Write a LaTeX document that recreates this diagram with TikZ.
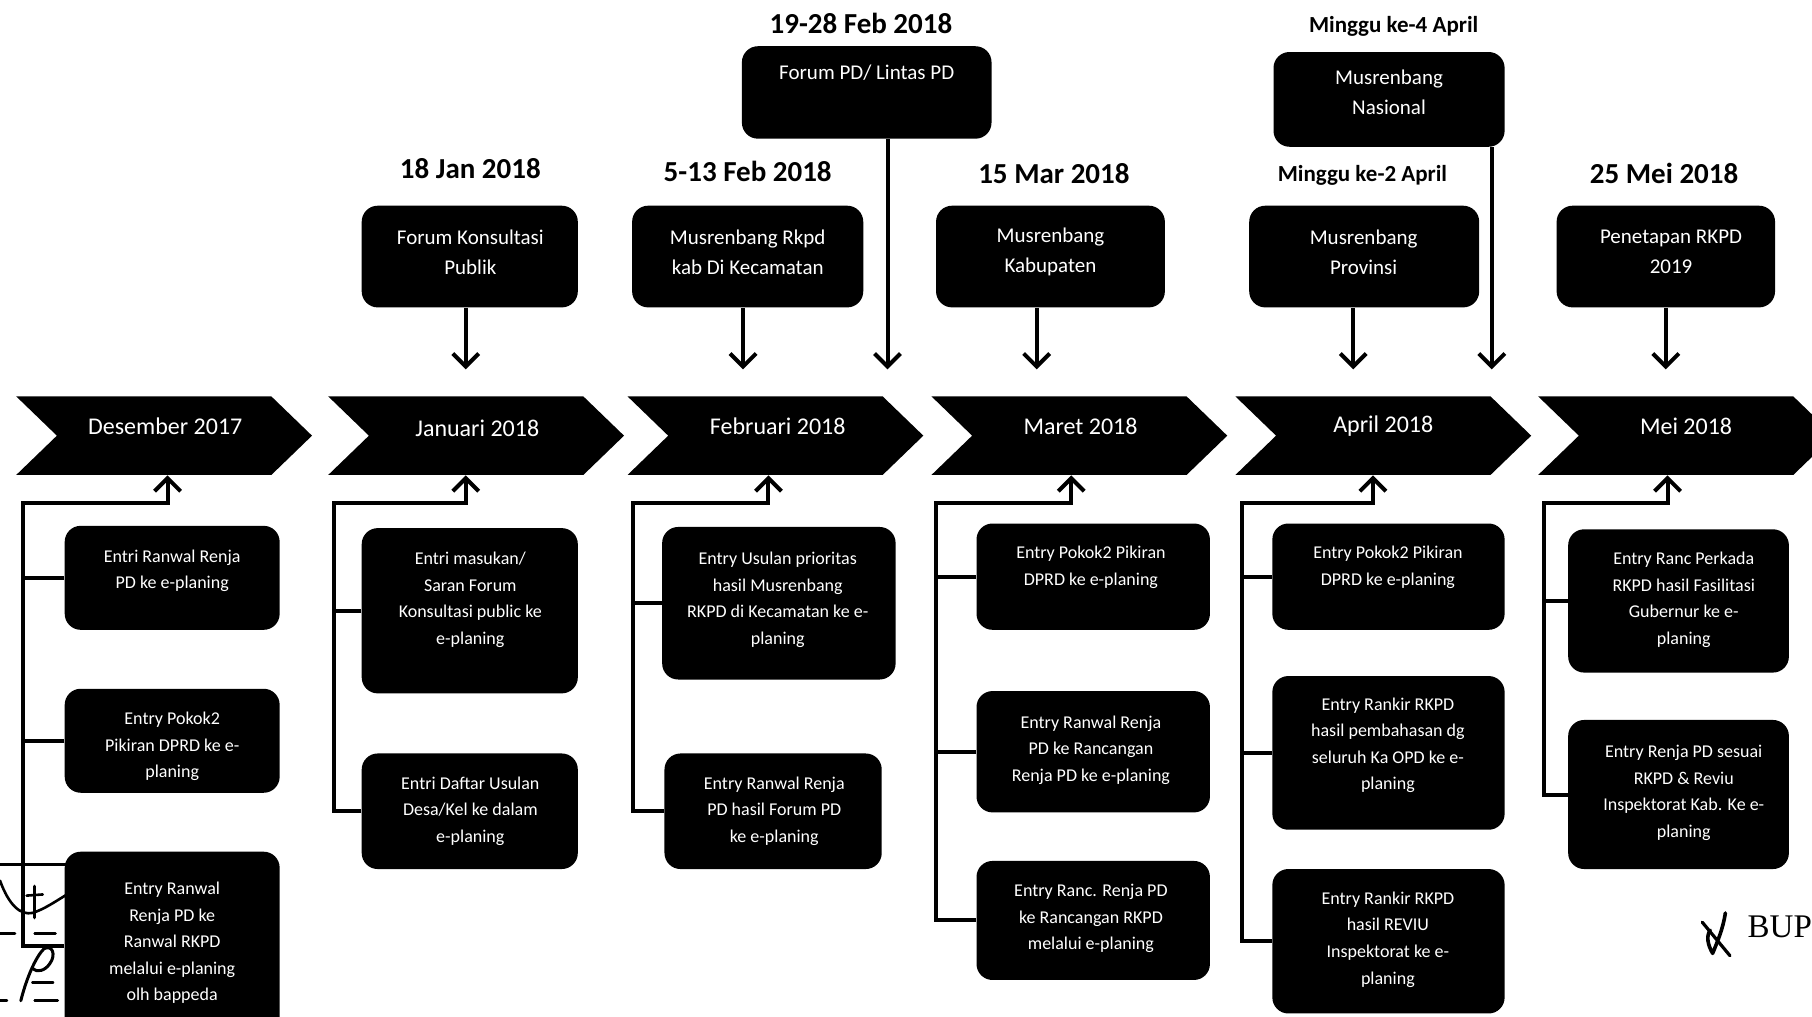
\documentclass[tikz,border=0pt]{standalone}
\usepackage{fontspec}
\setmainfont{Carlito}
\newfontfamily\bupfont{Liberation Serif}
\usetikzlibrary{arrows.meta,shapes.symbols,fit}
\begin{document}
\begin{tikzpicture}[x=0.5778pt,y=-0.5778pt,
  chev/.style={shape=signal, signal from=west, signal to=east, signal pointer angle=88,
    fill=black, minimum width=147.9pt, minimum height=39.3pt, inner sep=0pt},
  mon/.style={text=white, font=\fontsize{12}{14}\selectfont, inner sep=0pt},
  box/.style={fill=black, rounded corners=8pt, inner sep=0pt},
  toptxt/.style={text=white, align=center, font=\fontsize{10.5}{15}\selectfont, inner sep=0pt},
  subtxt/.style={text=white, align=center, font=\fontsize{9}{13.3}\selectfont, inner sep=0pt},
  datetxt/.style={font=\bfseries\fontsize{14.5}{16}\selectfont, inner sep=0pt},
  weektxt/.style={font=\bfseries\fontsize{11.5}{13}\selectfont, inner sep=0pt},
  link/.style={line width=2pt},
  uparrow/.style={line width=2pt, -{Straight Barb[length=6.5pt,width=13pt]}},
  downarrow/.style={line width=2pt, -{Straight Barb[length=6.5pt,width=13pt]}, shorten >=13.3pt},
  scribble/.style={line width=1.3pt, line cap=round, line join=round},
]
\path[use as bounding box] (0,0) rectangle (1568,880);
\clip (0,0) rectangle (1568,880);
\fill[white] (0,0) rectangle (1568,880);

% ---------- month timeline ----------
\node[chev] (dec) at (142,377) {};
\node[chev] (jan) at (412,377) {};
\node[chev] (feb) at (671,377) {};
\node[chev] (mar) at (934,377) {};
\node[chev] (apr) at (1197,377) {};
\node[chev] (mei) at (1459,377) {};
\node[mon] (decT) at (143,369) {Desember 2017};
\node[mon] (janT) at (413,371) {Januari 2018};
\node[mon] (febT) at (673,369) {Februari 2018};
\node[mon] (marT) at (935,369) {Maret 2018};
\node[mon] (aprT) at (1197,369) {April 2018};
\node[mon] (meiT) at (1459,369) {Mei 2018};

% ---------- events above the timeline ----------
\node[datetxt] (dJan) at (407,146) {18 Jan 2018};
\node[datetxt] (dFeb) at (647,148) {5-13 Feb 2018};
\node[datetxt] (dFpd) at (745,20) {19-28 Feb 2018};
\node[datetxt] (dMar) at (912,150) {15 Mar 2018};
\node[weektxt] (dPrv) at (1179,152) {Minggu ke-2 April};
\node[weektxt] (dNas) at (1206,23) {Minggu ke-4 April};
\node[datetxt] (dMei) at (1440,150) {25 Mei 2018};

\node[box, fit={(313,178) (500,266)}] (fkp) {};
\node[box, fit={(547,178) (747,266)}] (mkc) {};
\node[box, fit={(642,40) (858,120)}] (fpd) {};
\node[box, fit={(810,178) (1008,266)}] (mkb) {};
\node[box, fit={(1102,45) (1302,127)}] (mns) {};
\node[box, fit={(1081,178) (1280,266)}] (mpv) {};
\node[box, fit={(1347,178) (1536,266)}] (prk) {};

\node[toptxt] (fkpT) at (407,218) {Forum Konsultasi\\Publik};
\node[toptxt] (mkcT) at (647,218) {Musrenbang Rkpd\\kab Di Kecamatan};
\node[toptxt] (fpdT) at (750,63) {Forum PD/ Lintas PD};
\node[toptxt] (mkbT) at (909,218) {Musrenbang\\Kabupaten};
\node[toptxt] (mnsT) at (1202,80) {Musrenbang\\Nasional};
\node[toptxt] (mpvT) at (1180,218) {Musrenbang\\Provinsi};
\node[toptxt] (prkT) at (1446,218) {Penetapan RKPD\\2019};

\draw[downarrow] ([xshift=-2pt]fkp.south) -- ([xshift=-2pt]fkp.south |- jan.north);
\draw[downarrow] ([xshift=-2.3pt]mkc.south) -- ([xshift=-2.3pt]mkc.south |- feb.north);
\draw[downarrow] ([xshift=10.4pt]fpd.south) -- ([xshift=10.4pt]fpd.south |- feb.north);
\draw[downarrow] ([xshift=-6.9pt]mkb.south) -- ([xshift=-6.9pt]mkb.south |- mar.north);
\draw[downarrow] ([xshift=-5.5pt]mpv.south) -- ([xshift=-5.5pt]mpv.south |- apr.north);
\draw[downarrow] ([xshift=51.4pt]mns.south) -- ([xshift=51.4pt]mns.south |- apr.north);
\draw[downarrow] (prk.south) -- (prk.south |- mei.north);

% ---------- e-planing entries below the timeline ----------
% Desember 2017
\node[box, fit={(56,455) (242,545)}] (dA) {};
\node[box, fit={(56,596) (242,686)}] (dB) {};
\node[box, fit={(56,737) (242,900)}] (dC) {};
\node[subtxt] (dAT) at (149,494) {Entri Ranwal Renja\\PD ke e-planing};
\node[subtxt] (dBT) at (149,646) {Entry Pokok2\\Pikiran DPRD ke e-\\planing};
\node[subtxt] (dCT) at (149,816) {Entry Ranwal\\Renja PD ke\\Ranwal RKPD\\melalui e-planing\\olh bappeda};
\coordinate (decS) at (20,435);
\coordinate (decA) at (145,435);
\draw[uparrow] (dC.west) -| (decS) -- (decA) -- (decA |- dec.south);
\draw[link] (dA.west) -- (dA.west -| decS);
\draw[link] (dB.west) -- (dB.west -| decS);

% Januari 2018
\node[box, fit={(313,457) (500,600)}] (jA) {};
\node[box, fit={(313,652) (500,752)}] (jB) {};
\node[subtxt] (jAT) at (407,519) {Entri masukan/\\Saran Forum\\Konsultasi public ke\\e-planing};
\node[subtxt] (jBT) at (407,702) {Entri Daftar Usulan\\Desa/Kel ke dalam\\e-planing};
\coordinate (janS) at (289,435);
\coordinate (janA) at (403,435);
\draw[uparrow] (jB.west) -| (janS) -- (janA) -- (janA |- jan.south);
\draw[link] (jA.west) -- (jA.west -| janS);

% Februari 2018
\node[box, fit={(573,456) (775,588)}] (fA) {};
\node[box, fit={(575,652) (763,752)}] (fB) {};
\node[subtxt] (fAT) at (673,519) {Entry Usulan prioritas\\hasil Musrenbang\\RKPD di Kecamatan ke e-\\planing};
\node[subtxt] (fBT) at (670,702) {Entry Ranwal Renja\\PD hasil Forum PD\\ke e-planing};
\coordinate (febS) at (548,435);
\coordinate (febA) at (665,435);
\draw[uparrow] (fB.west) -| (febS) -- (febA) -- (febA |- feb.south);
\draw[link] (fA.west) -- (fA.west -| febS);

% Maret 2018
\node[box, fit={(845,453) (1047,545)}] (mA) {};
\node[box, fit={(845,598) (1047,703)}] (mB) {};
\node[box, fit={(845,745) (1047,848)}] (mC) {};
\node[subtxt] (mAT) at (944,491) {Entry Pokok2 Pikiran\\DPRD ke e-planing};
\node[subtxt] (mBT) at (944,649) {Entry Ranwal Renja\\PD ke Rancangan\\Renja PD ke e-planing};
\node[subtxt] (mCT) at (944,795) {Entry Ranc. Renja PD\\ke Rancangan RKPD\\melalui e-planing};
\coordinate (marS) at (810,435);
\coordinate (marA) at (927,435);
\draw[uparrow] (mC.west) -| (marS) -- (marA) -- (marA |- mar.south);
\draw[link] (mA.west) -- (mA.west -| marS);
\draw[link] (mB.west) -- (mB.west -| marS);

% April 2018
\node[box, fit={(1101,453) (1302,545)}] (aA) {};
\node[box, fit={(1101,585) (1302,718)}] (aB) {};
\node[box, fit={(1101,752) (1302,877)}] (aC) {};
\node[subtxt] (aAT) at (1201,491) {Entry Pokok2 Pikiran\\DPRD ke e-planing};
\node[subtxt] (aBT) at (1201,645) {Entry Rankir RKPD\\hasil pembahasan dg\\seluruh Ka OPD ke e-\\planing};
\node[subtxt] (aCT) at (1201,813) {Entry Rankir RKPD\\hasil REVIU\\Inspektorat ke e-\\planing};
\coordinate (aprS) at (1075,435);
\coordinate (aprA) at (1188,435);
\draw[uparrow] (aC.west) -| (aprS) -- (aprA) -- (aprA |- apr.south);
\draw[link] (aA.west) -- (aA.west -| aprS);
\draw[link] (aB.west) -- (aB.west -| aprS);

% Mei 2018
\node[box, fit={(1357,458) (1548,582)}] (eA) {};
\node[box, fit={(1357,623) (1548,752)}] (eB) {};
\node[subtxt] (eAT) at (1457,519) {Entry Ranc Perkada\\RKPD hasil Fasilitasi\\Gubernur ke e-\\planing};
\node[subtxt] (eBT) at (1457,686) {Entry Renja PD sesuai\\RKPD \& Reviu\\Inspektorat Kab. Ke e-\\planing};
\coordinate (meiS) at (1336,435);
\coordinate (meiA) at (1443,435);
\draw[uparrow] (eB.west) -| (meiS) -- (meiA) -- (meiA |- mei.south);
\draw[link] (eA.west) -- (eA.west -| meiS);

% ---------- hand-written marks ----------
\draw[scribble] (0,748) -- (62,748);
\draw[scribble] (0,762) .. controls (8,784) and (18,792) .. (28,790) .. controls (38,787) and (48,780) .. (58,774);
\draw[scribble, line width=1.8pt] (30,767) -- (30,794);
\draw[scribble] (23,775) -- (37,774);
\draw[scribble] (0,808) -- (13,808);
\draw[scribble] (30,808) -- (48,808);
\draw[scribble, line width=1.5pt] (18,866) .. controls (23,846) and (31,828) .. (38,821) .. controls (45,817) and (49,826) .. (43,834) .. controls (39,840) and (32,842) .. (28,838);
\draw[scribble] (28,850) -- (46,850);
\draw[scribble] (0,866) -- (6,866);
\draw[scribble] (30,866) -- (50,866);

\draw[scribble, line width=1.6pt] (1473,798) -- (1497,827);
\draw[scribble, line width=1.8pt] (1493,790) .. controls (1491,804) and (1486,815) .. (1482,825) .. controls (1478,818) and (1476,810) .. (1480,805);
\node[font=\bupfont\fontsize{16.5}{18}\selectfont, inner sep=0pt, anchor=west] (bup) at (1512,802) {BUP};
\end{tikzpicture}
\end{document}
